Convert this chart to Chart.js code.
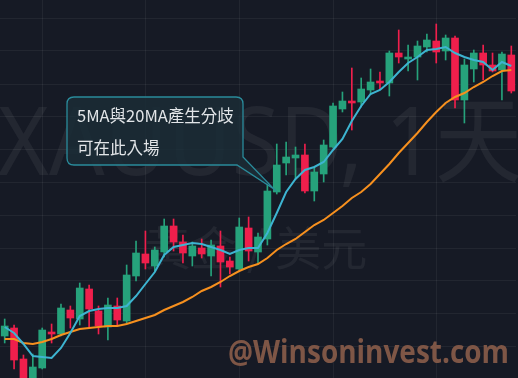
<!DOCTYPE html>
<html>
<head>
<meta charset="utf-8">
<script src="https://cdn.jsdelivr.net/npm/chart.js@4.4.1/dist/chart.umd.min.js"></script>
<style>
  html, body { margin: 0; padding: 0; background: #161a25; }
  canvas { display: block; }
</style>
</head>
<body>
<canvas id="out" width="518" height="378"></canvas>
<script>
// daily XAUUSD candles
const openPrices  = [1964,1972,1941,1915,1932,1968,1966,1990,1981,2011,1989,1973,1994,1979,2024,2046,2034,2048,2074,2058,
                     2044,2052,2044,2054,2039,2031,2072,2048,2061,2108,2137,2142,2145,2109,2126,2153,2191,2199,2198,2210,
                     2219,2217,2247,2241,2243,2253,2259,2249,2262,2200,2231,2247,2235,2230,2245];
const highPrices  = [1981,1975,1945,1946,1972,1976,1996,1994,2017,2015,1994,2002,2002,2035,2059,2069,2053,2081,2081,2065,
                     2058,2061,2060,2069,2043,2082,2083,2067,2116,2156,2158,2153,2156,2133,2160,2197,2208,2232,2222,2231,
                     2228,2249,2270,2255,2259,2266,2276,2265,2264,2241,2250,2255,2247,2248,2254];
const lowPrices   = [1957,1931,1910,1910,1931,1957,1964,1972,1975,1972,1966,1960,1975,1977,2019,2031,2029,2043,2049,2037,
                     2034,2042,2024,2013,2026,2030,2039,2037,2055,2106,2125,2121,2107,2099,2118,2152,2188,2170,2193,2206,
                     2211,2204,2237,2229,2220,2248,2237,2240,2192,2177,2218,2220,2228,2200,2207];
const closePrices = [1974,1940,1915,1933,1970,1966,1992,1982,2012,1991,1974,1995,1980,2025,2047,2037,2050,2074,2058,2047,
                     2054,2046,2055,2038,2033,2073,2049,2063,2109,2135,2143,2145,2109,2128,2155,2194,2199,2197,2211,2218,
                     2217,2247,2243,2243,2254,2260,2248,2262,2200,2235,2247,2235,2229,2246,2209];
const ma5  = [1973,1967,1956,1944,1943,1942,1952,1967,1984,1989,1991,1992,1992,1994,2004,2016,2028,2045,2053,2055,
              2057,2056,2053,2050,2046,2050,2052,2052,2067,2087,2108,2121,2130,2133,2138,2150,2161,2179,2194,2206,
              2210,2218,2228,2237,2243,2250,2251,2253,2247,2243,2240,2238,2230,2238,2234];
const ma20 = [1961,1961,1957,1956,1958,1961,1965,1968,1971,1972,1973,1974,1974,1976,1979,1982,1985,1990,1994,1998,
              2003,2009,2013,2018,2024,2029,2033,2036,2042,2050,2056,2061,2068,2075,2080,2087,2094,2102,2108,2116,
              2126,2136,2147,2157,2167,2178,2188,2197,2203,2207,2213,2218,2224,2229,2230];
const days = openPrices.map((_, i) => String(i + 1));
const priceGrid = [2282,2249,2216,2184,2151,2118,2085,2052,2020,1987,1954];
const monthStarts = [4, 15, 25, 35, 46];

const up = "#26a27b";
const down = "#ef1f4c";
const gridColor = "rgba(255,255,255,0.055)";
const candleColors = openPrices.map((o, i) => closePrices[i] >= o ? up : down);

const overlays = {
    id: "overlays",
    beforeDatasetsDraw(chart) {
        const ctx = chart.ctx;
        ctx.save();
        ctx.fillStyle = "rgba(255,255,255,0.06)";
        ctx.textBaseline = "alphabetic";
        ctx.textAlign = "left";
        ctx.font = '95px "Noto Sans", "Noto Sans CJK TC"';
        ctx.fillText("XAUUSD, 1天", -2, 175, 524);
        ctx.textAlign = "center";
        ctx.font = '46px "Noto Sans CJK TC"';
        ctx.fillText("黃金 / 美元", 256, 265);
        ctx.restore();
    },
    afterDatasetsDraw(chart) {
        const ctx = chart.ctx;
        ctx.save();
        // callout
        const l = 67, t = 97, r = 243, b = 165, rad = 7;
        ctx.beginPath();
        ctx.moveTo(l + rad, t);
        ctx.lineTo(r - rad, t);
        ctx.quadraticCurveTo(r, t, r, t + rad);
        ctx.lineTo(r, 157);
        ctx.lineTo(274, 189);
        ctx.lineTo(237, b);
        ctx.lineTo(l + rad, b);
        ctx.quadraticCurveTo(l, b, l, b - rad);
        ctx.lineTo(l, t + rad);
        ctx.quadraticCurveTo(l, t, l + rad, t);
        ctx.closePath();
        ctx.fillStyle = "rgba(27,45,55,0.82)";
        ctx.fill();
        ctx.strokeStyle = "#2a8b9b";
        ctx.lineWidth = 1.3;
        ctx.stroke();
        ctx.fillStyle = "#e2e5e8";
        ctx.font = '16.5px "Noto Sans CJK TC"';
        ctx.textAlign = "left";
        ctx.fillText("5MA與20MA產生分歧", 77, 122);
        ctx.fillText("可在此入場", 77, 154);
        ctx.restore();
    },
    afterDraw(chart) {
        const ctx = chart.ctx;
        ctx.save();
        ctx.fillStyle = "#7e5646";
        ctx.font = 'bold 32px "Open Sans"';
        ctx.textAlign = "left";
        ctx.fillText("@Winsoninvest.com", 228, 363, 281);
        ctx.restore();
    }
};

new Chart(document.getElementById("out").getContext("2d"), {
    type: "bar",
    data: {
        labels: days,
        datasets: [
            {
                type: "line",
                label: "MA5",
                data: ma5,
                borderColor: "#3db4d1",
                borderWidth: 2,
                pointRadius: 0,
                tension: 0,
                order: 0
            },
            {
                type: "line",
                label: "MA20",
                data: ma20,
                borderColor: "#f7901e",
                borderWidth: 2,
                pointRadius: 0,
                tension: 0,
                order: 0
            },
            {
                label: "body",
                data: openPrices.map((o, i) => [o, closePrices[i]]),
                backgroundColor: candleColors,
                barThickness: 7,
                grouped: false,
                order: 1
            },
            {
                label: "wick",
                data: lowPrices.map((lo, i) => [lo, highPrices[i]]),
                backgroundColor: candleColors,
                barThickness: 1,
                grouped: false,
                order: 2
            }
        ]
    },
    options: {
        responsive: false,
        animation: false,
        devicePixelRatio: 1,
        layout: { padding: { left: 0, right: 2, top: 0, bottom: 0 } },
        plugins: { legend: { display: false }, tooltip: { enabled: false } },
        scales: {
            x: {
                ticks: { display: false, autoSkip: false },
                border: { display: false },
                grid: {
                    offset: false,
                    drawTicks: false,
                    color: c => monthStarts.includes(c.index) ? gridColor : "transparent"
                }
            },
            y: {
                position: "right",
                min: 1922,
                max: 2300,
                ticks: { display: false },
                border: { display: false },
                grid: { drawTicks: false, color: gridColor },
                afterBuildTicks: scale => { scale.ticks = priceGrid.map(v => ({ value: v })); }
            }
        }
    },
    plugins: [overlays]
});
</script>
</body>
</html>
